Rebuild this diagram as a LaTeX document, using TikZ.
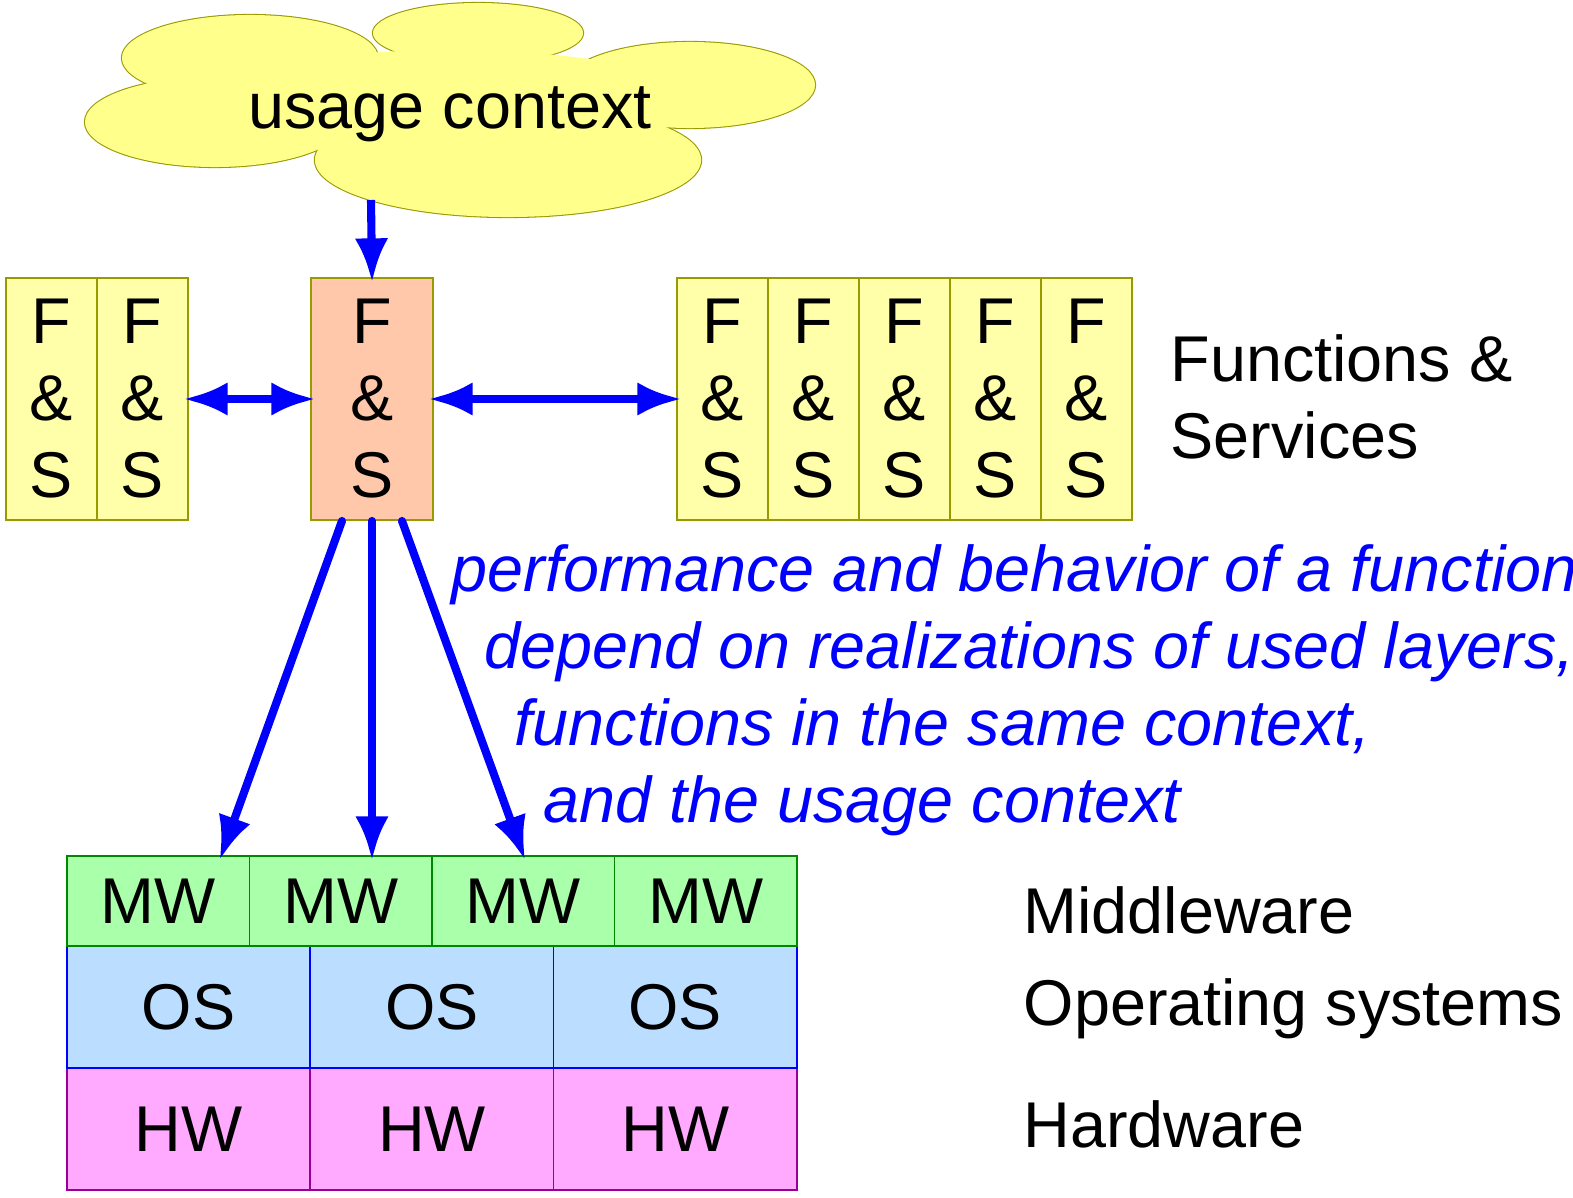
\documentclass[tikz,border=0pt]{standalone}
\usepackage{fontspec}
\setmainfont{Liberation Sans}
\usetikzlibrary{arrows.meta,calc}

\definecolor{fsyellow}{HTML}{FFFFAA}
\definecolor{fsolive}{HTML}{999900}
\definecolor{fssalmon}{HTML}{FFC8AA}
\definecolor{cloudfill}{HTML}{FFFF8C}
\definecolor{mwfill}{HTML}{AAFFAA}
\definecolor{mwline}{HTML}{008800}
\definecolor{osfill}{HTML}{BBDDFF}
\definecolor{hwfill}{HTML}{FFAAFF}
\definecolor{hwline}{HTML}{990099}

\tikzset{
  fsbox/.style={draw=fsolive, fill=fsyellow, line width=0.5pt, minimum width=0.91cm,
    minimum height=2.42cm, inner sep=0pt, align=center},
  layerbox/.style={line width=0.5pt, inner sep=0pt, minimum height=1.22cm, minimum width=2.433cm},
  mwbox/.style={layerbox, draw=mwline, fill=mwfill, minimum height=0.9cm, minimum width=1.825cm},
  osbox/.style={layerbox, draw=blue, fill=osfill},
  hwbox/.style={layerbox, draw=hwline, fill=hwfill},
  flow/.style={draw=blue, line width=2.3pt, shorten >=-1.5pt, -{Latex[length=12.5pt,width=9.5pt]}},
  both/.style={flow, shorten <=-1.5pt, {Latex[length=12.5pt,width=9.5pt]}-{Latex[length=12.5pt,width=9.5pt]}},
  note/.style={anchor=base west, inner sep=0pt, text=blue, font=\fontsize{18.4}{21.9}\selectfont\itshape}
}

\begin{document}
\begin{tikzpicture}[x=0.01cm, y=-0.01cm, font=\fontsize{18.4}{21.9}\selectfont]
	\useasboundingbox (0,0) rectangle (1573,1197);

	%usage context cloud
	\foreach \cx/\cy/\rx/\ry in {215/122/1.30/0.45, 250/58/1.28/0.43, 478/33/1.05/0.30, 690/85/1.25/0.43, 508/160/1.93/0.57}
		\draw[fsolive, line width=0.6pt] (\cx,\cy) ellipse [x radius=\rx cm, y radius=\ry cm];
	\foreach \cx/\cy/\rx/\ry in {215/122/1.30/0.45, 250/58/1.28/0.43, 478/33/1.05/0.30, 690/85/1.25/0.43, 508/160/1.93/0.57, 450/95/2.30/0.45}
		\fill[cloudfill] (\cx,\cy) ellipse [x radius=\rx cm, y radius=\ry cm];
	\node[anchor=base, inner sep=0pt] (ctx) at (450,129) {usage context};
	\coordinate (ctxbot) at (371,200);

	%functions and services
	\foreach \i/\x in {1/51.5, 2/142.5}
		\node[fsbox] (fsl\i) at (\x,399) {F\\\&\\S};
	\node[fsbox, fill=fssalmon, minimum width=1.22cm] (fsc) at (372,399) {F\\\&\\S};
	\foreach \i/\x in {1/722.5, 2/813.5, 3/904.5, 4/995.5, 5/1086.5}
		\node[fsbox] (fsr\i) at (\x,399) {F\\\&\\S};
	\node[anchor=north west, inner sep=0pt, align=left] (fslabel) at (1170,334) {Functions \&\\Services};

	%layers
	\foreach \i/\x in {1/188.7, 2/432, 3/675.3}
		\node[hwbox] (hw\i) at (\x,1129) {HW};
	\foreach \i/\x in {1/188.7, 2/432, 3/675.3}
		\node[osbox] (os\i) at (\x,1007) {OS};
	\foreach \i/\x in {1/158.25, 2/340.75, 3/523.25, 4/705.75}
		\node[mwbox] (mw\i) at (\x,901) {MW};
	\node[anchor=base west, inner sep=0pt] (mwlabel) at (1023,933) {Middleware};
	\node[anchor=base west, inner sep=0pt] (oslabel) at (1023,1025) {Operating systems};
	\node[anchor=base west, inner sep=0pt] (hwlabel) at (1023,1147) {Hardware};

	%dependencies
	\node[note] (note1) at (451,591) {performance and behavior of a function};
	\node[note] (note2) at (484,668) {depend on realizations of used layers,};
	\node[note] (note3) at (514,745) {functions in the same context,};
	\node[note] (note4) at (543,822) {and the usage context};

	%arrows
	\draw[flow] (ctxbot) -- (fsc.north);
	\draw[both] (fsl2.east) -- (fsc.west);
	\draw[both] (fsc.east) -- (fsr1.west);
	\draw[flow] ([xshift=-0.3cm]fsc.south) -- ([xshift=-0.29cm]mw1.north east);
	\draw[flow] (fsc.south) -- (fsc.south |- mw2.north);
	\draw[flow] ([xshift=0.3cm]fsc.south) -- (mw3.north);
	\foreach \dx in {-0.3,0,0.3}
		\fill[blue] ([xshift=\dx cm]fsc.south) circle [radius=1.15pt];

\end{tikzpicture}
\end{document}
